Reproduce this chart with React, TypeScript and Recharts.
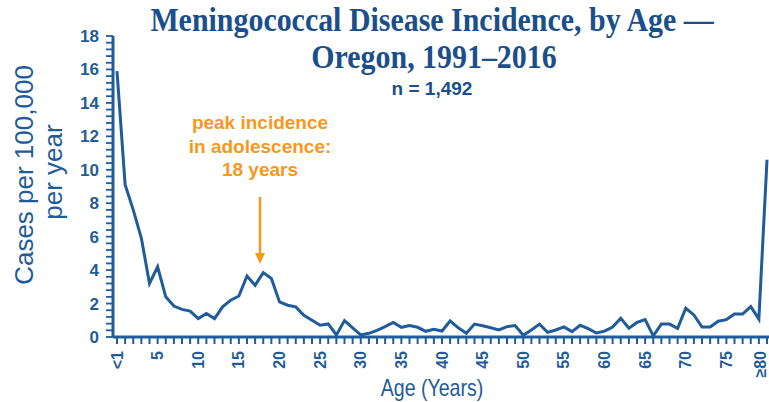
import { Line, LineChart, XAxis, YAxis } from "recharts";

const BLUE = "#1f5c99";
const TITLE_BLUE = "#1b4f8c";
const ORANGE = "#f7981d";

// age groups: <1, 1..79, ≥80
const ageLabels: string[] = ["<1", ...Array.from({ length: 79 }, (_, i) => String(i + 1)), "≥80"];

// cases per 100,000 per year
const incidence = [
  15.9, 9.1, 7.6, 5.9, 3.2, 4.2, 2.4, 1.85, 1.65, 1.55,
  1.1, 1.4, 1.1, 1.8, 2.2, 2.45, 3.65, 3.1, 3.85, 3.5,
  2.1, 1.9, 1.8, 1.3, 1.0, 0.7, 0.78, 0.12, 0.98, 0.55,
  0.12, 0.22, 0.4, 0.62, 0.87, 0.58, 0.68, 0.58, 0.34, 0.46,
  0.36, 0.96, 0.55, 0.22, 0.77, 0.67, 0.55, 0.42, 0.62, 0.68,
  0.1, 0.42, 0.77, 0.28, 0.42, 0.6, 0.32, 0.7, 0.5, 0.24,
  0.35, 0.6, 1.12, 0.52, 0.87, 1.04, 0.07, 0.77, 0.77, 0.52,
  1.72, 1.32, 0.6, 0.6, 0.94, 1.04, 1.37, 1.37, 1.82, 1.07,
  10.6,
];

const xTickLabels = ["<1", "5", "10", "15", "20", "25", "30", "35", "40", "45", "50", "55", "60", "65", "70", "75", "≥80"];
const yTickLabels = [0, 2, 4, 6, 8, 10, 12, 14, 16, 18];
const yMinorTicks = Array.from({ length: 46 }, (_, i) => Math.round(i * 4) / 10);

const rows = ageLabels.map((age, i) => ({ age, rate: incidence[i] }));

const SANS = "'Liberation Sans', Arial, sans-serif";
const SERIF = "'Liberation Serif', 'Times New Roman', serif";

// axis lines sit at fixed pixels: x axis at y=337, y axis at x=113
const X_AXIS_Y = 337;
const Y_AXIS_X = 113;

function XTick(props: any) {
  const { x, payload } = props;
  const showLabel = xTickLabels.includes(payload.value);
  // last label sits at the right edge, keep it inside the picture
  const nudge = payload.value === "≥80" ? -7 : 0;
  return (
    <g>
      <path d={`M${x},${X_AXIS_Y} V${X_AXIS_Y + 7}`} stroke={BLUE} strokeWidth={2} fill="none" />
      {showLabel ? (
        <text
          transform={`translate(${x + nudge},${X_AXIS_Y + 14}) rotate(-90)`}
          textAnchor="end"
          dy="0.35em"
          fontFamily={SANS}
          fontWeight="bold"
          fontSize={16}
          fill={BLUE}
        >
          {payload.value}
        </text>
      ) : null}
    </g>
  );
}

function YTick(props: any) {
  const { y, payload } = props;
  const v = payload.value;
  const showLabel = yTickLabels.some((t) => Math.abs(t - v) < 1e-6);
  return (
    <g>
      <path d={`M${Y_AXIS_X - 7},${y} H${Y_AXIS_X}`} stroke={BLUE} strokeWidth={1.8} fill="none" />
      {showLabel ? (
        <text x={Y_AXIS_X - 14} y={y} dy="0.35em" textAnchor="end" fontFamily={SANS} fontWeight="bold" fontSize={17} fill={BLUE}>
          {Math.round(v)}
        </text>
      ) : null}
    </g>
  );
}

export default function App() {
  return (
    <div style={{ position: "absolute", left: 0, top: 0, width: 769, height: 402, background: "#fff" }}>
      <LineChart width={769} height={402} data={rows} margin={{ top: 36, right: 0, bottom: 0, left: 0 }}>
        <XAxis
          dataKey="age"
          scale="point"
          interval={0}
          padding={{ left: 4, right: 2 }}
          height={65}
          axisLine={{ stroke: BLUE, strokeWidth: 3 }}
          tickLine={false}
          tick={<XTick />}
        />
        <YAxis
          type="number"
          domain={[0, 18]}
          ticks={yMinorTicks}
          interval={0}
          width={113}
          axisLine={{ stroke: BLUE, strokeWidth: 3 }}
          tickLine={false}
          tick={<YTick />}
        />
        <Line type="linear" dataKey="rate" stroke={BLUE} strokeWidth={3} dot={false} isAnimationActive={false} />
      </LineChart>
      <svg width={769} height={402} style={{ position: "absolute", left: 0, top: 0, pointerEvents: "none" }}>
        <g fontFamily={SERIF} fontWeight="bold" fontSize={34} fill={TITLE_BLUE} textAnchor="middle">
          <text transform="translate(432,31) scale(0.88,1)">Meningococcal Disease Incidence, by Age —</text>
          <text transform="translate(434,68) scale(0.88,1)">Oregon, 1991–2016</text>
        </g>
        <text x={432} y={95} textAnchor="middle" fontFamily={SANS} fontWeight="bold" fontSize={19} fill={TITLE_BLUE}>
          n = 1,492
        </text>
        <g fontFamily={SANS} fontWeight="bold" fontSize={19} fill={ORANGE} textAnchor="middle">
          <text x={260} y={129}>peak incidence</text>
          <text x={260} y={153}>in adolescence:</text>
          <text x={260} y={176}>18 years</text>
        </g>
        <line x1={260} y1={197} x2={260} y2={255} stroke={ORANGE} strokeWidth={2.5} />
        <polygon points="255,253 265,253 260,264" fill={ORANGE} />
        <g fontFamily={SANS} fontSize={26} fill={BLUE} textAnchor="middle">
          <text transform="translate(33,175) rotate(-90)">Cases per 100,000</text>
          <text transform="translate(62,172) rotate(-90)">per year</text>
        </g>
        <text transform="translate(432,396) scale(0.85,1)" textAnchor="middle" fontFamily={SANS} fontSize={23} fill={BLUE}>
          Age (Years)
        </text>
      </svg>
    </div>
  );
}
